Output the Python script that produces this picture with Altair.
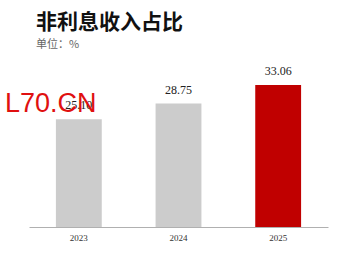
import altair as alt
import pandas as pd

years = ["2023", "2024", "2025"]
values = [25.10, 28.75, 33.06]
colors = ["#cccccc", "#cccccc", "#c00000"]
labels = ["25.10", "28.75", "33.06"]

df = pd.DataFrame({"year": years, "value": values, "color": colors, "label": labels})

x = alt.X("year:N", sort=years,
          scale=alt.Scale(paddingInner=0.54, paddingOuter=0.27),
          axis=alt.Axis(title=None, labelAngle=0, ticks=False, domainColor="#b0b0b0",
                        labelFont="Liberation Serif", labelFontSize=9, labelColor="#333333",
                        labelPadding=6))
y = alt.Y("value:Q", scale=alt.Scale(domain=[0, 36.55], nice=False),
          axis=None)

bars = alt.Chart(df).mark_bar().encode(x=x, y=y, color=alt.Color("color:N", scale=None))
text = alt.Chart(df).mark_text(baseline="bottom", dy=-7, font="Liberation Serif",
                               fontSize=12, color="#222222").encode(x=x, y=y, text="label:N")

wm = pd.DataFrame({"t": ["L70.CN"]})
watermark = alt.Chart(wm).mark_text(align="left", baseline="alphabetic", font="Liberation Sans",
                                    fontSize=27, color="#e01010").encode(
    x=alt.value(-24), y=alt.value(42), text="t:N")

chart = alt.layer(bars, text, watermark).properties(
    width=299, height=157,
    autosize=alt.AutoSizeParams(type="none"),
    padding={"left": 29, "top": 70, "right": 32, "bottom": 41},
    title=alt.TitleParams(text="非利息收入占比", subtitle="单位：%", anchor="start",
                          frame="group", dx=7, offset=15,
                          font="Noto Sans CJK SC", fontSize=21, fontWeight="bold", color="#111111",
                          subtitleFont="Noto Sans CJK SC", subtitleFontSize=11,
                          subtitleColor="#666666", subtitlePadding=6),
).configure_view(stroke=None)

chart.save("out.html", embed_options={"renderer": "svg", "actions": False})
